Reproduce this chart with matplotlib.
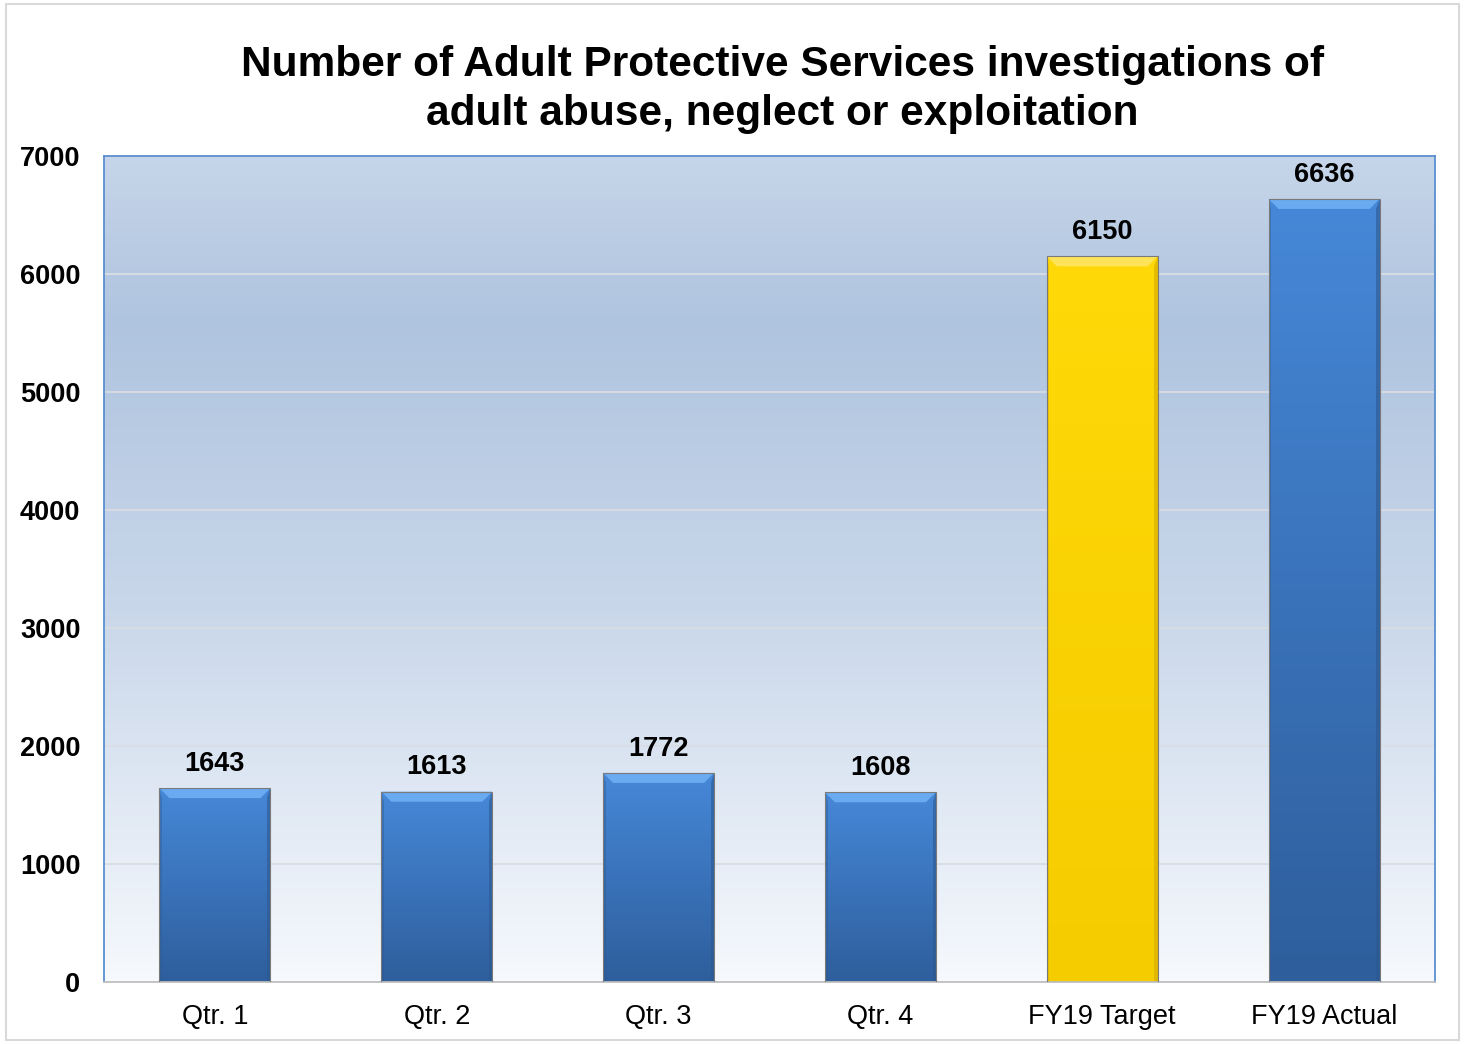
import numpy as np
import matplotlib
matplotlib.use("Agg")
import matplotlib.pyplot as plt
from matplotlib.colors import LinearSegmentedColormap
from matplotlib.patches import Polygon, Rectangle

categories = ["Qtr. 1", "Qtr. 2", "Qtr. 3", "Qtr. 4", "FY19 Target", "FY19 Actual"]
values = [1643, 1613, 1772, 1608, 6150, 6636]
is_target = [False, False, False, False, True, False]
yticks = [0, 1000, 2000, 3000, 4000, 5000, 6000, 7000]
title = "Number of Adult Protective Services investigations of\nadult abuse, neglect or exploitation"

plt.rcParams['font.family'] = ['Liberation Sans', 'DejaVu Sans']

fig = plt.figure(figsize=(14.65, 10.44), dpi=100)
# outer border
fig.patches.append(Rectangle((0.004, 0.004), 0.992, 0.992, transform=fig.transFigure,
                             fill=False, edgecolor='#d9d9d9', linewidth=1.5))

ax = fig.add_axes([104/1465, 1 - 982/1044, (1435-104)/1465, (982-156)/1044])
ax.set_xlim(-0.5, len(categories) - 0.5)
ax.set_ylim(0, 7000)

# background gradient
bg = LinearSegmentedColormap.from_list('bg', [(0, '#f6f9fd'), (0.45, '#c9d7ea'),
                                               (0.8, '#afc4df'), (1.0, '#c6d5e9')])
grad = np.linspace(0, 1, 256).reshape(-1, 1)
ax.imshow(grad, aspect='auto', cmap=bg, origin='lower',
          extent=[-0.5, len(categories) - 0.5, 0, 7000], zorder=0)

for y in yticks[1:-1]:
    ax.axhline(y, color='#d9dde3', linewidth=1.3, zorder=1)

blue = LinearSegmentedColormap.from_list('blue', [(0, '#2e5e9c'), (1, '#4688d8')])
yellow = LinearSegmentedColormap.from_list('yel', [(0, '#f5cc00'), (1, '#ffd908')])

width = 0.5
for i, (v, t) in enumerate(zip(values, is_target)):
    cmap = yellow if t else blue
    rect = ax.bar(i, v, width=width, color='none', edgecolor='#7a7a7a',
                  linewidth=0.8, zorder=3)[0]
    im = ax.imshow(grad, aspect='auto', cmap=cmap, origin='lower',
                   extent=[i - width/2, i + width/2, 0, v], zorder=2)
    im.set_clip_path(rect)
    # bevel on top
    bh = 85
    bw = 0.045
    top_col = '#ffe45a' if t else '#6aaaf0'
    side_col = '#d4a900' if t else '#2c5890'
    ax.add_patch(Polygon([(i - width/2, v), (i + width/2, v),
                          (i + width/2 - bw, v - bh), (i - width/2 + bw, v - bh)],
                         closed=True, facecolor=top_col, edgecolor='none', zorder=2.5))
    ax.add_patch(Polygon([(i + width/2, v), (i + width/2, 0),
                          (i + width/2 - 0.015, 0), (i + width/2 - 0.015, v - bh)],
                         closed=True, facecolor=side_col, edgecolor='none', alpha=0.6, zorder=2.5))
    ax.add_patch(Polygon([(i - width/2, v), (i - width/2, 0),
                          (i - width/2 + 0.012, 0), (i - width/2 + 0.012, v - bh)],
                         closed=True, facecolor=side_col, edgecolor='none', alpha=0.4, zorder=2.5))
    ax.text(i, v + 95, f"{v}", ha='center', va='bottom', fontsize=19.5,
            fontweight='bold', color='#000000', zorder=4)

ax.set_xticks(range(len(categories)))
ax.set_xticklabels(categories, fontsize=19.5)
ax.set_yticks(yticks)
ax.set_yticklabels([str(y) for y in yticks], fontsize=19.5, fontweight='bold')
ax.tick_params(axis='both', length=0)
ax.tick_params(axis='x', pad=15.5)
ax.tick_params(axis='y', pad=17)
for s in ax.spines.values():
    s.set_color('#5b8fd0')
    s.set_linewidth(1.3)
ax.spines['bottom'].set_color('#bfbfbf')

fig.text(0.534, 0.914, title, ha='center', va='center', fontsize=30.5,
         fontweight='bold', linespacing=1.3)

fig.savefig("out.png", dpi=100)
